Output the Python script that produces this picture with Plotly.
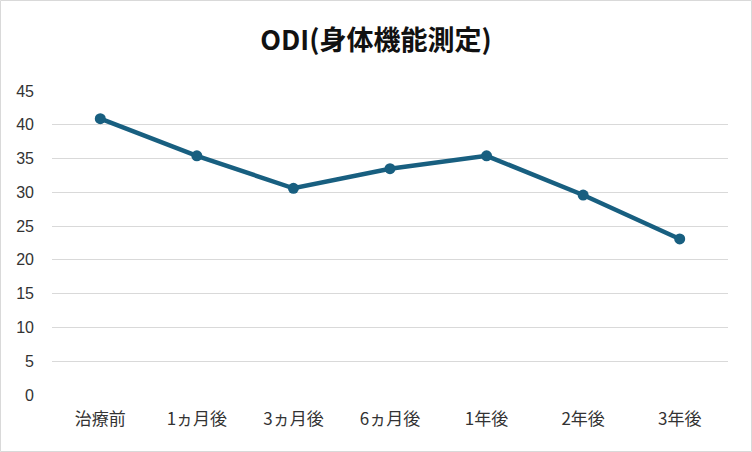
import plotly.graph_objects as go

categories = ["治療前", "1ヵ月後", "3ヵ月後", "6ヵ月後", "1年後", "2年後", "3年後"]
odi_values = [40.9, 35.4, 30.6, 33.5, 35.4, 29.6, 23.1]
y_ticks = [0, 5, 10, 15, 20, 25, 30, 35, 40, 45]
title_text = "ODI(身体機能測定)"

W, H = 752, 452
ml, mr, mt, mb = 52, 24, 91, 57
pw = W - ml - mr
ph = H - mt - mb

fig = go.Figure()
fig.add_trace(go.Scatter(
    x=categories, y=odi_values, mode="lines+markers",
    line=dict(color="#185f80", width=4.5),
    marker=dict(color="#185f80", size=11),
    showlegend=False, cliponaxis=False,
))

fig.update_layout(
    width=W, height=H,
    margin=dict(l=ml, r=mr, t=mt, b=mb),
    paper_bgcolor="white", plot_bgcolor="white",
    title=dict(text="<b>" + title_text + "</b>", x=0.5, xanchor="center",
               y=1 - 41 / H, yanchor="middle",
               font=dict(family="Noto Sans CJK JP", size=27, color="#111111")),
    xaxis=dict(type="category", range=[-0.5, 6.5], showgrid=False,
               showline=False, zeroline=False, ticks="",
               tickfont=dict(family="Noto Sans CJK JP", size=17, color="#333333"),
               ticklabelstandoff=12),
    yaxis=dict(range=[0, 45], tickvals=y_ticks, showgrid=True,
               gridcolor="#d9d9d9", gridwidth=1.3, zeroline=False,
               showline=False, ticks="",
               tickfont=dict(family="Liberation Sans", size=16, color="#333333"),
               ticklabelstandoff=17),
    shapes=[dict(type="rect", xref="paper", yref="paper",
                 x0=-(ml - 0.5) / pw, x1=1 + (mr - 0.5) / pw,
                 y0=-(mb - 0.5) / ph, y1=1 + (mt - 0.5) / ph,
                 line=dict(color="#d9d9d9", width=1), layer="below")],
)

fig.write_html("out.html")
